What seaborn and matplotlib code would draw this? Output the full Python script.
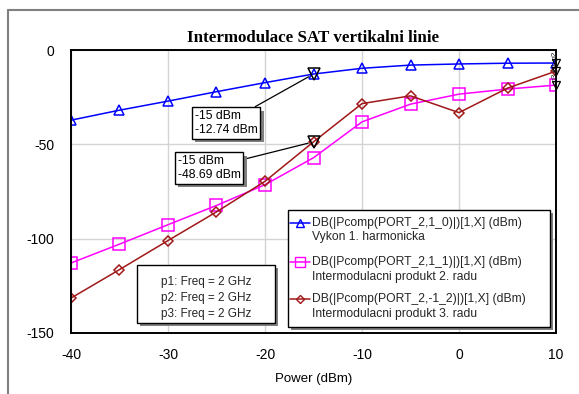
import numpy as np
import pandas as pd
import matplotlib.pyplot as plt
import seaborn as sns
from matplotlib.lines import Line2D
from matplotlib.patches import Rectangle
import matplotlib.patheffects as pe

sns.set_theme(style='whitegrid')
plt.rcParams['font.family'] = ['Liberation Sans', 'DejaVu Sans']
plt.rcParams['axes.unicode_minus'] = False

# data
power = [-40, -35, -30, -25, -20, -15, -10, -5, 0, 5, 10]
harm1 = [-37.2, -31.9, -27.1, -22.1, -17.3, -12.74, -9.7, -8.0, -7.4, -7.0, -6.9]
imd2 = [-112.9, -102.9, -92.6, -82.4, -71.4, -57.1, -38.1, -28.7, -23.4, -20.7, -18.6]
imd3 = [-131.5, -116.4, -101.0, -85.8, -69.6, -48.69, -28.4, -24.3, -33.2, -20.2, -11.2]

series_names = ['DB(|Pcomp(PORT_2,1_0)|)[1,X] (dBm)',
                'DB(|Pcomp(PORT_2,1_1)|)[1,X] (dBm)',
                'DB(|Pcomp(PORT_2,-1_2)|)[1,X] (dBm)']
series_desc = ['Vykon 1. harmonicka',
               'Intermodulacni produkt 2. radu',
               'Intermodulacni produkt 3. radu']
colors = ['#0000ff', '#ff00ff', '#a01818']
markers = ['^', 's', 'D']
msizes = [7.5, 8.5, 5]

cursor_x = -15
freq_lines = ['p1: Freq = 2 GHz', 'p2: Freq = 2 GHz', 'p3: Freq = 2 GHz']

df = pd.DataFrame({'Power': power * 3,
                   'Value': harm1 + imd2 + imd3,
                   'Series': sum([[n] * len(power) for n in series_names], [])})

W, H = 579, 394
fig = plt.figure(figsize=(W / 100, H / 100), dpi=100)
ax = fig.add_axes([71 / W, 1 - 333 / H, (556 - 71) / W, (333 - 50) / H])

def fp(x, y):
    return (x / W, 1 - y / H)

for name, c, m, ms in zip(series_names, colors, markers, msizes):
    sub = df[df['Series'] == name]
    sns.lineplot(data=sub, x='Power', y='Value', ax=ax, color=c, marker=m,
                 markersize=ms, markerfacecolor='none', markeredgecolor=c,
                 markeredgewidth=1.1, linewidth=1.1, legend=False)

ax.set_xlim(-40, 10)
ax.set_ylim(-150, 0)
ax.set_xticks(np.arange(-40, 11, 10))
ax.set_yticks(np.arange(-150, 1, 50))
ax.grid(True, color='#d4d4d4', linewidth=1)
for s in ax.spines.values():
    s.set_color('black')
    s.set_linewidth(1.4)
ax.tick_params(axis='both', length=0, labelsize=10, colors='black')
ax.tick_params(axis='y', pad=12)
ax.tick_params(axis='x', pad=11)
ax.set_xlabel('Power (dBm)', fontsize=9.5, color='black', labelpad=8)
ax.set_ylabel('')
ax.set_title('Intermodulace SAT vertikalni linie', fontsize=12.2, fontweight='bold',
             family='Liberation Serif', color='black', pad=6)

shadow = [pe.withSimplePatchShadow(offset=(2.5, -2.5), shadow_rgbFace='#808080', alpha=1)]

# cursor markers with readouts
i = power.index(cursor_x)
for yv, pos in [(harm1[i], fp(226, 123)), (imd3[i], fp(209, 168))]:
    ax.plot([cursor_x], [yv], marker='v', ms=8, mfc='none', mec='black', mew=1.1, zorder=5)
    an = ax.annotate(f'{cursor_x} dBm\n{yv:.2f} dBm', xy=(cursor_x, yv), xytext=pos,
                     textcoords='figure fraction', ha='center', va='center',
                     multialignment='left', fontsize=8.7, color='black',
                     bbox=dict(boxstyle='square,pad=0.25', fc='white', ec='black', lw=1),
                     arrowprops=dict(arrowstyle='-', color='black', lw=0.9,
                                     shrinkA=0, shrinkB=4), zorder=6)
    an.get_bbox_patch().set_path_effects(shadow)

# end markers p1..p3
for vals in [harm1, imd2, imd3]:
    ax.plot([power[-1]], [vals[-1]], marker='v', ms=6, mfc='none', mec='black',
            mew=0.9, zorder=5, clip_on=False)
ax.annotate('p2', xy=(power[-1], harm1[-1]), xytext=(-3, 2), textcoords='offset points',
            rotation=90, fontsize=6, ha='left', va='bottom', annotation_clip=False)
ax.annotate('p1', xy=(power[-1], harm1[-1]), xytext=(-3, -6), textcoords='offset points',
            rotation=90, fontsize=6, ha='left', va='bottom', annotation_clip=False)
ax.annotate('p3', xy=(power[-1], imd2[-1]), xytext=(-3, 2), textcoords='offset points',
            rotation=90, fontsize=6, ha='left', va='bottom', annotation_clip=False)

def box(x0, y0, x1, y1):
    (a, b), (c, d) = fp(x0, y1), fp(x1, y0)
    fig.patches.append(Rectangle((a + 3 / W, b - 3 / H), c - a, d - b, transform=fig.transFigure,
                                 fc='#808080', ec='none', zorder=8))
    fig.patches.append(Rectangle((a, b), c - a, d - b, transform=fig.transFigure,
                                 fc='white', ec='black', lw=1, zorder=9))

# legend
box(288, 210, 550, 327)
rows = [(223, 237), (262, 277), (299, 314)]
for (y1, y2), name, desc, c, m, ms in zip(rows, series_names, series_desc, colors, markers, msizes):
    a, b = fp(290, y1)
    e, _ = fp(310, y1)
    fig.lines.append(Line2D([a, (a + e) / 2, e], [b, b, b], transform=fig.transFigure,
                            color=c, lw=1.1, marker=m, ms=ms * 0.8, mfc='none', mec=c,
                            markevery=[1], zorder=10))
    fig.text(*fp(312, y1), name, fontsize=8.7, va='center', ha='left', zorder=10)
    fig.text(*fp(312, y2), desc, fontsize=8.7, va='center', ha='left', zorder=10)

# frequency box
box(137, 265, 275, 323)
for k, t in enumerate(freq_lines):
    fig.text(*fp(206, 282 + 16 * k), t, fontsize=8.5, va='center', ha='center', zorder=10)

# outer frame
fig.lines.append(Line2D([8 / W, 1], [1 - 10 / H, 1 - 10 / H], transform=fig.transFigure,
                        color='#808080', lw=1.5))
fig.lines.append(Line2D([8 / W, 8 / W], [0, 1 - 10 / H], transform=fig.transFigure,
                        color='#808080', lw=1.5))

fig.savefig('out.png', dpi=100)
